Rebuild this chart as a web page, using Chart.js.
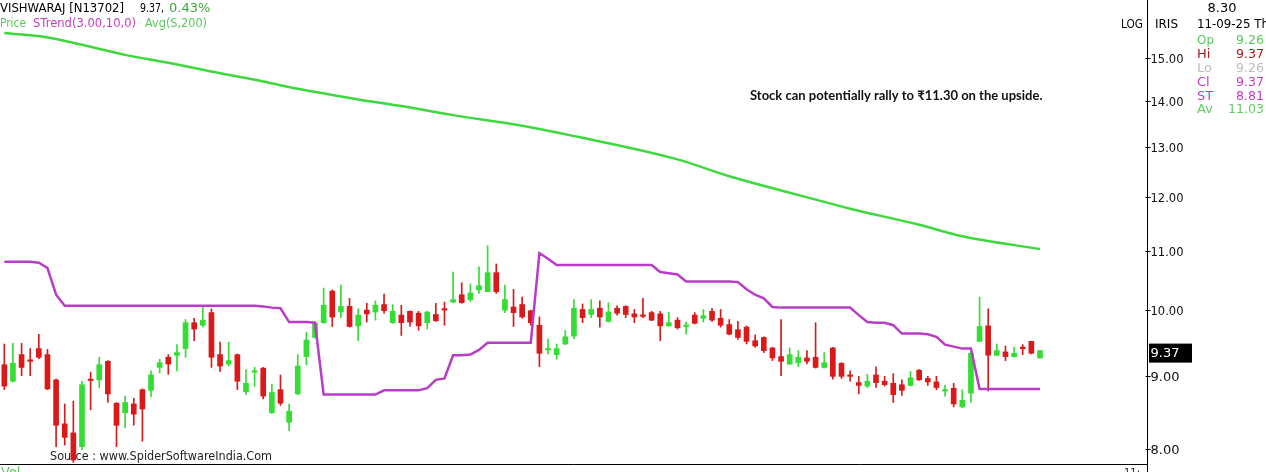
<!DOCTYPE html>
<html>
<head>
<meta charset="utf-8">
<title>VISHWARAJ [N13702]</title>
<script src="https://cdn.jsdelivr.net/npm/chart.js@4.4.1/dist/chart.umd.min.js"></script>
<style>
  html, body { margin: 0; padding: 0; background: #fff; overflow: hidden; }
  canvas { display: block; }
</style>
</head>
<body>
<canvas id="myCanvas" width="1266" height="472"></canvas>
<script>
// daily candles, oldest first
const opens = [
  9.16, 8.92, 9.31, 9.22, 9.40, 9.31, 8.94, 8.33, 8.21, 8.03,
  8.94, 8.94, 9.21, 8.61, 8.48, 8.60, 8.80, 8.79, 9.12, 9.27,
  9.30, 9.40, 9.80, 9.76, 9.96, 9.31, 9.17, 9.31, 8.77, 9.05,
  9.11, 8.48, 8.80, 8.35, 8.74, 9.28, 9.57, 9.80, 10.31, 9.97,
  10.06, 9.75, 10.00, 9.97, 10.09, 9.80, 9.92, 9.98, 9.95, 9.80,
  9.93, 10.01, 10.13, 10.25, 10.17, 10.33, 10.30, 10.62, 10.00, 10.05,
  10.09, 9.99, 9.76, 9.38, 9.31, 9.47, 9.59, 10.01, 9.93, 10.03,
  9.82, 10.03, 10.06, 9.94, 9.91, 9.96, 9.94, 9.75, 9.84, 9.74,
  9.92, 9.87, 9.98, 9.87, 9.77, 9.69, 9.73, 9.52, 9.57, 9.41,
  9.28, 9.17, 9.19, 9.26, 9.27, 9.12, 9.41, 9.18, 9.00, 8.90,
  8.85, 9.01, 8.92, 8.89, 8.87, 8.86, 9.08, 8.96, 8.91, 8.78,
  8.82, 8.56, 8.75, 9.51, 9.75, 9.30, 9.35, 9.28, 9.41, 9.51,
  9.26
];
const highs = [
  9.47, 9.48, 9.48, 9.40, 9.62, 9.39, 8.95, 8.60, 8.64, 8.92,
  9.05, 9.27, 9.22, 8.62, 8.71, 8.68, 8.81, 9.07, 9.24, 9.31,
  9.46, 9.85, 9.87, 10.05, 10.02, 9.50, 9.50, 9.32, 9.09, 9.12,
  9.12, 8.88, 9.01, 8.60, 9.31, 9.65, 9.81, 10.36, 10.33, 10.41,
  10.19, 10.02, 10.11, 10.15, 10.26, 10.09, 10.08, 9.99, 9.98, 9.98,
  10.11, 10.13, 10.63, 10.45, 10.43, 10.72, 11.09, 10.77, 10.41, 10.34,
  10.21, 10.00, 9.89, 9.55, 9.47, 9.68, 10.17, 10.10, 10.17, 10.15,
  10.12, 10.07, 10.07, 10.01, 10.19, 9.98, 9.98, 9.96, 9.88, 9.81,
  9.96, 10.01, 10.03, 10.01, 9.85, 9.82, 9.75, 9.61, 9.58, 9.42,
  9.85, 9.41, 9.37, 9.37, 9.80, 9.34, 9.42, 9.19, 9.07, 8.99,
  9.02, 9.13, 8.99, 9.03, 8.94, 9.06, 9.09, 8.99, 8.99, 8.86,
  8.89, 8.80, 9.35, 10.21, 10.02, 9.47, 9.44, 9.42, 9.46, 9.51,
  9.37
];
const lows = [
  8.80, 8.91, 9.00, 9.00, 9.25, 8.80, 8.03, 8.05, 7.83, 7.99,
  8.52, 8.83, 8.62, 8.03, 8.28, 8.31, 8.10, 8.70, 9.04, 9.02,
  9.07, 9.27, 9.52, 9.73, 9.12, 9.06, 9.14, 8.80, 8.73, 8.85,
  8.67, 8.47, 8.58, 8.24, 8.73, 9.16, 9.56, 9.79, 9.74, 9.88,
  9.73, 9.52, 9.81, 9.84, 9.95, 9.79, 9.60, 9.74, 9.68, 9.70,
  9.82, 9.76, 10.12, 10.11, 10.14, 10.27, 10.30, 10.27, 9.96, 9.74,
  9.87, 9.76, 9.13, 9.32, 9.24, 9.46, 9.55, 9.80, 9.88, 9.73,
  9.81, 9.92, 9.88, 9.80, 9.88, 9.83, 9.52, 9.74, 9.70, 9.62,
  9.78, 9.81, 9.82, 9.73, 9.61, 9.54, 9.47, 9.42, 9.34, 9.22,
  9.00, 9.16, 9.13, 9.17, 9.11, 9.11, 8.95, 8.96, 8.92, 8.74,
  8.83, 8.83, 8.85, 8.62, 8.72, 8.85, 8.93, 8.86, 8.80, 8.71,
  8.56, 8.55, 8.62, 9.51, 8.78, 9.29, 9.22, 9.27, 9.31, 9.32,
  9.26
];
const closes = [
  8.85, 9.18, 9.12, 9.21, 9.27, 8.81, 8.31, 8.15, 7.86, 8.87,
  8.93, 9.16, 8.74, 8.31, 8.62, 8.46, 8.53, 9.01, 9.19, 9.17,
  9.34, 9.80, 9.70, 9.84, 9.27, 9.14, 9.22, 8.92, 8.89, 9.06,
  8.71, 8.76, 8.61, 8.50, 9.14, 9.53, 9.79, 10.08, 9.89, 10.06,
  9.74, 9.92, 9.94, 10.08, 9.99, 9.98, 9.80, 9.81, 9.75, 9.97,
  9.83, 10.00, 10.17, 10.12, 10.28, 10.40, 10.62, 10.30, 10.17, 9.96,
  9.89, 9.80, 9.33, 9.39, 9.40, 9.58, 10.03, 9.88, 10.01, 9.89,
  9.97, 9.95, 9.93, 9.89, 9.90, 9.84, 9.75, 9.80, 9.72, 9.75,
  9.79, 9.91, 9.84, 9.76, 9.62, 9.57, 9.51, 9.44, 9.37, 9.26,
  9.21, 9.31, 9.27, 9.21, 9.12, 9.19, 8.99, 8.99, 8.99, 8.86,
  8.92, 8.90, 8.87, 8.73, 8.79, 8.97, 8.94, 8.91, 8.83, 8.79,
  8.60, 8.65, 9.33, 9.74, 9.30, 9.37, 9.28, 9.33, 9.40, 9.33,
  9.37
];

// STrend(3.00,10,0)
const stValues = [
  10.81, 10.81, 10.81, 10.81, 10.79, 10.70, 10.25, 10.07, 10.07, 10.07,
  10.07, 10.07, 10.07, 10.07, 10.07, 10.07, 10.07, 10.07, 10.07, 10.07,
  10.07, 10.07, 10.07, 10.07, 10.07, 10.07, 10.07, 10.07, 10.07, 10.07,
  10.06, 10.04, 10.03, 9.81, 9.81, 9.81, 9.80, 8.73, 8.73, 8.73,
  8.73, 8.73, 8.73, 8.73, 8.79, 8.79, 8.79, 8.79, 8.79, 8.82,
  8.94, 8.96, 9.30, 9.30, 9.31, 9.38, 9.49, 9.49, 9.49, 9.49,
  9.49, 9.49, 10.96, 10.86, 10.75, 10.75, 10.75, 10.75, 10.75, 10.75,
  10.75, 10.75, 10.75, 10.75, 10.75, 10.75, 10.63, 10.61, 10.59, 10.47,
  10.47, 10.47, 10.47, 10.47, 10.47, 10.46, 10.34, 10.25, 10.19, 10.05,
  10.04, 10.04, 10.04, 10.04, 10.04, 10.04, 10.04, 10.04, 10.04, 9.92,
  9.81, 9.80, 9.80, 9.76, 9.63, 9.63, 9.63, 9.62, 9.58, 9.46,
  9.43, 9.40, 9.40, 8.81, 8.81, 8.81, 8.81, 8.81, 8.81, 8.81,
  8.81
];

// Avg(S,200), read at these candles
const maIndex = [0, 5, 10, 14, 19, 25, 30, 34, 41, 46, 52, 60, 67, 78, 84, 90, 95, 98, 106, 111, 120];
const maValues = [15.61, 15.50, 15.27, 15.07, 14.88, 14.63, 14.44, 14.27, 14.03, 13.88, 13.68, 13.45, 13.19, 12.74, 12.40, 12.12, 11.90, 11.77, 11.47, 11.26, 11.03];

const yTicks = [8, 9, 10, 11, 12, 13, 14, 15];
const lastPrice = 9.37;
const changePct = '0.43%';
const infoRows = [
  ['Op', '9.26', '#56c856'],
  ['Hi', '9.37', '#a51c1c'],
  ['Lo', '9.26', '#bdbdbd'],
  ['Cl', '9.37', '#c23cc2'],
  ['ST', '8.81', '#c23cc2'],
  ['Av', '11.03', '#62cc62']
];

const UP = '#33dd33';
const DOWN = '#da1a1a';
const FONT = '"DejaVu Sans", Verdana, sans-serif';
const F13 = '13px ' + FONT;

const candleColors = closes.map((c, i) => c >= opens[i] ? UP : DOWN);
const wickData = highs.map((h, i) => ({ x: i, y: [lows[i], h] }));
const bodyData = opens.map((o, i) => ({ x: i, y: [Math.min(o, closes[i]), Math.max(o, closes[i])] }));
const stData = stValues.map((v, i) => ({ x: i, y: v }));
const maData = maIndex.map((idx, i) => ({ x: idx, y: maValues[i] }));

function text(ctx, str, x, y, color, font, align, maxW) {
  ctx.fillStyle = color;
  ctx.font = font;
  ctx.textAlign = align || 'left';
  ctx.textBaseline = 'middle';
  if (maxW) ctx.fillText(str, x, y, maxW); else ctx.fillText(str, x, y);
}

const overlay = {
  id: 'overlay',
  beforeDatasetsDraw(chart) {
    const ctx = chart.ctx;
    ctx.save();
    text(ctx, 'Source : www.SpiderSoftwareIndia.Com', 50, 457, '#1e1e1e', F13, 'left', 222);
    ctx.restore();
  },
  afterDraw(chart) {
    const ctx = chart.ctx;
    const area = chart.chartArea;
    const yScale = chart.scales.y;
    const ax = Math.round(area.right) + 0.5;
    ctx.save();

    // frame: right axis line and bottom line
    ctx.strokeStyle = '#000';
    ctx.lineWidth = 1;
    ctx.beginPath();
    ctx.moveTo(ax, 0);
    ctx.lineTo(ax, chart.height);
    ctx.moveTo(0, Math.round(area.bottom) + 0.5);
    ctx.lineTo(ax, Math.round(area.bottom) + 0.5);
    ctx.stroke();

    // price ticks
    yTicks.forEach(v => {
      const py = Math.round(yScale.getPixelForValue(v)) + 0.5;
      ctx.beginPath();
      ctx.moveTo(ax - 2, py);
      ctx.lineTo(ax + 3, py);
      ctx.stroke();
      text(ctx, v.toFixed(2), ax + 3, py + 1, '#111', F13, 'left', 33);
    });

    // last price tag
    const ly = yScale.getPixelForValue(lastPrice);
    ctx.fillStyle = '#000';
    ctx.fillRect(ax + 1.5, ly - 7, 43, 19);
    text(ctx, lastPrice.toFixed(2), ax + 3, ly + 3, '#fff', F13, 'left', 30);

    // header
    text(ctx, 'VISHWARAJ [N13702]', 0, 9, '#000', F13, 'left', 124);
    text(ctx, lastPrice.toFixed(2) + ',', 140, 9, '#000', F13, 'left', 24);
    text(ctx, changePct, 169, 9, '#3aa83a', F13, 'left', 45);
    text(ctx, 'Price', 0, 24, '#5cc85c', F13, 'left', 26);
    text(ctx, 'STrend(3.00,10,0)', 33, 24, '#c43cc4', F13, 'left', 103);
    text(ctx, 'Avg(S,200)', 145, 24, '#5cc85c', F13, 'left', 62);

    // right panel
    text(ctx, 'LOG', 1121, 25, '#000', F13, 'left', 22);
    text(ctx, 'IRIS', 1155, 25, '#000', F13, 'left', 23);
    text(ctx, '8.30', 1222, 9, '#000', F13, 'center', 30);
    text(ctx, '11-09-25 Th', 1197, 25, '#000', F13, 'left', 72);
    infoRows.forEach((row, i) => {
      const ry = 41 + i * 13.8;
      text(ctx, row[0], 1197, ry, row[2], F13, 'left', 17);
      text(ctx, row[1], 1264, ry, row[2], F13, 'right', row[1].length > 4 ? 36 : 28);
    });

    // annotation
    text(ctx, 'Stock can potentially rally to \u20B911.30 on the upside.', 750, 96, '#111',
      'bold 13px Lato, "Open Sans", sans-serif', 'left', 307);

    // cut-off labels under the frame
    ctx.textBaseline = 'top';
    ctx.font = F13;
    ctx.fillStyle = '#5cc85c';
    ctx.textAlign = 'left';
    ctx.fillText('Vol', 1, 466, 20);
    ctx.fillStyle = '#222';
    ctx.fillText('11:', 1124, 467, 16);
    ctx.restore();
  }
};

new Chart(document.getElementById('myCanvas').getContext('2d'), {
  data: {
    datasets: [
      {
        type: 'line',
        label: 'STrend',
        data: stData,
        borderColor: '#b83cc8',
        borderWidth: 2.5,
        pointRadius: 0,
        tension: 0,
        order: 0
      },
      {
        type: 'line',
        label: 'Avg',
        data: maData,
        borderColor: '#3ed83e',
        borderWidth: 2.5,
        pointRadius: 0,
        cubicInterpolationMode: 'monotone',
        order: 0
      },
      {
        type: 'bar',
        label: 'wick',
        data: wickData,
        backgroundColor: candleColors,
        barThickness: 1,
        grouped: false,
        borderWidth: 0,
        order: 2
      },
      {
        type: 'bar',
        label: 'body',
        data: bodyData,
        backgroundColor: candleColors,
        barThickness: 5,
        minBarLength: 1.5,
        grouped: false,
        borderWidth: 0,
        order: 1
      }
    ]
  },
  options: {
    responsive: false,
    animation: false,
    events: [],
    layout: { padding: { left: 0, right: 0, top: 0, bottom: 8 } },
    scales: {
      x: {
        type: 'linear',
        display: false,
        offset: false,
        bounds: 'data',
        min: -0.5,
        max: 132.4,
        afterBuildTicks: scale => { scale.min = -0.5; scale.max = 132.4; }
      },
      y: {
        type: 'logarithmic',
        position: 'right',
        min: 7.809,
        max: 16.46,
        grid: { display: false },
        border: { display: false },
        ticks: { display: false },
        afterBuildTicks: scale => {
          scale.ticks = yTicks.map(v => ({ value: v }));
          scale.min = 7.809;
          scale.max = 16.46;
        },
        afterFit: scale => { scale.width = 119; }
      }
    },
    plugins: {
      legend: { display: false },
      tooltip: { enabled: false }
    }
  },
  plugins: [overlay]
});
</script>
</body>
</html>
